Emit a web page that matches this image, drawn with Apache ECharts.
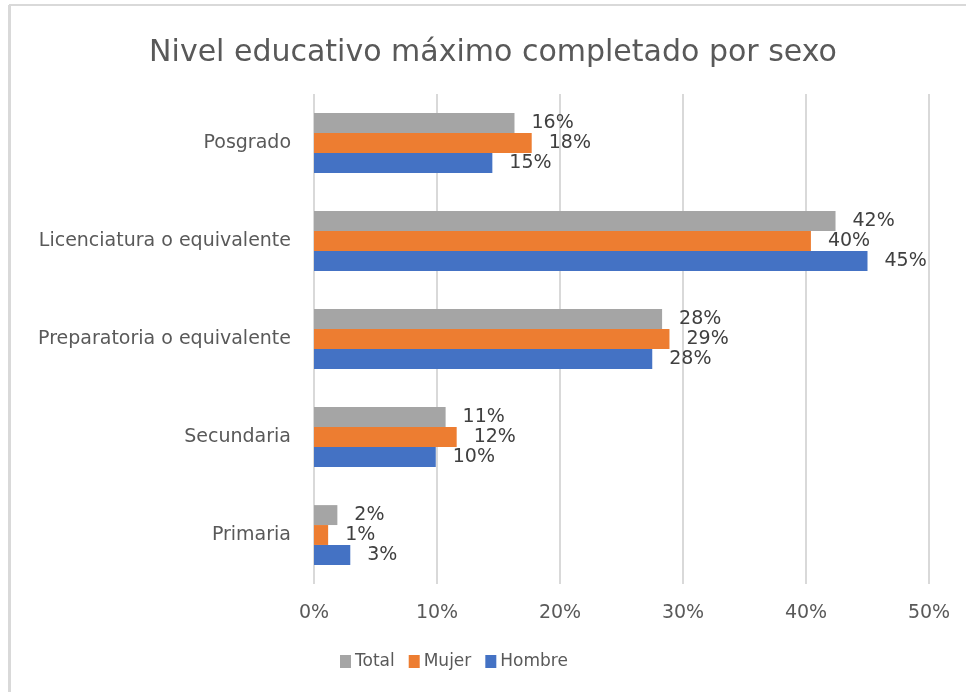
<!DOCTYPE html>
<html>
<head>
<meta charset="utf-8">
<script src="https://cdn.jsdelivr.net/npm/echarts@6/dist/echarts.min.js"></script>
<style>
  html, body { margin: 0; padding: 0; background: #fff; }
  #chart { width: 966px; height: 692px; }
</style>
</head>
<body>
<div id="chart"></div>
<script>
// categorias, de abajo hacia arriba
var categorias = ['Primaria', 'Secundaria', 'Preparatoria o equivalente', 'Licenciatura o equivalente', 'Posgrado'];
var hombre = [2.95, 9.9, 27.5, 45.0, 14.5];
var mujer = [1.15, 11.6, 28.9, 40.4, 17.7];
var total = [1.9, 10.7, 28.3, 42.4, 16.3];
var leyenda = ['Total', 'Mujer', 'Hombre'];

var fuente = 'DejaVu Sans';
var chart = echarts.init(document.getElementById('chart'));

function etiqueta() {
    return {
        show: true,
        position: 'right',
        distance: 17,
        color: '#404040',
        fontFamily: fuente,
        fontSize: 19,
        formatter: function (p) { return Math.round(p.value) + '%'; }
    };
}

var option = {
    animation: false,
    backgroundColor: '#fff',
    title: {
        text: 'Nivel educativo máximo completado por sexo',
        left: 488,
        top: 33,
        textAlign: 'center',
        textStyle: { color: '#595959', fontFamily: fuente, fontSize: 30, fontWeight: 'normal' }
    },
    legend: {
        data: leyenda,
        left: 335,
        top: 648,
        itemWidth: 11,
        itemHeight: 13,
        itemGap: 14,
        icon: 'rect',
        textStyle: { color: '#595959', fontFamily: fuente, fontSize: 17, padding: [0, 0, 0, -1] }
    },
    grid: { left: 314, right: 37, top: 94, bottom: 108, containLabel: false },
    xAxis: {
        type: 'value',
        min: 0,
        max: 50,
        interval: 10,
        axisLine: { show: false },
        axisTick: { show: false },
        splitLine: { lineStyle: { color: '#D9D9D9', width: 2 } },
        axisLabel: {
            margin: 20,
            color: '#595959',
            fontFamily: fuente,
            fontSize: 19,
            formatter: '{value}%'
        }
    },
    yAxis: {
        type: 'category',
        data: categorias,
        axisLine: { show: false },
        axisTick: { show: false },
        axisLabel: { margin: 23, color: '#595959', fontFamily: fuente, fontSize: 19 }
    },
    series: [
        // en ECharts la primera serie queda arriba en barras horizontales
        { name: 'Total', type: 'bar', data: total, itemStyle: { color: '#A5A5A5' },
          barGap: '0%', barCategoryGap: '39%', label: etiqueta() },
        { name: 'Mujer', type: 'bar', data: mujer, itemStyle: { color: '#ED7D31' }, label: etiqueta() },
        { name: 'Hombre', type: 'bar', data: hombre, itemStyle: { color: '#4472C4' }, label: etiqueta() }
    ],
    graphic: [
        { type: 'line', shape: { x1: 9, y1: 5, x2: 966, y2: 5 }, style: { stroke: '#D9D9D9', lineWidth: 2 } },
        { type: 'line', shape: { x1: 9.5, y1: 5, x2: 9.5, y2: 692 }, style: { stroke: '#D9D9D9', lineWidth: 3 } }
    ]
};
chart.setOption(option);
</script>
</body>
</html>
